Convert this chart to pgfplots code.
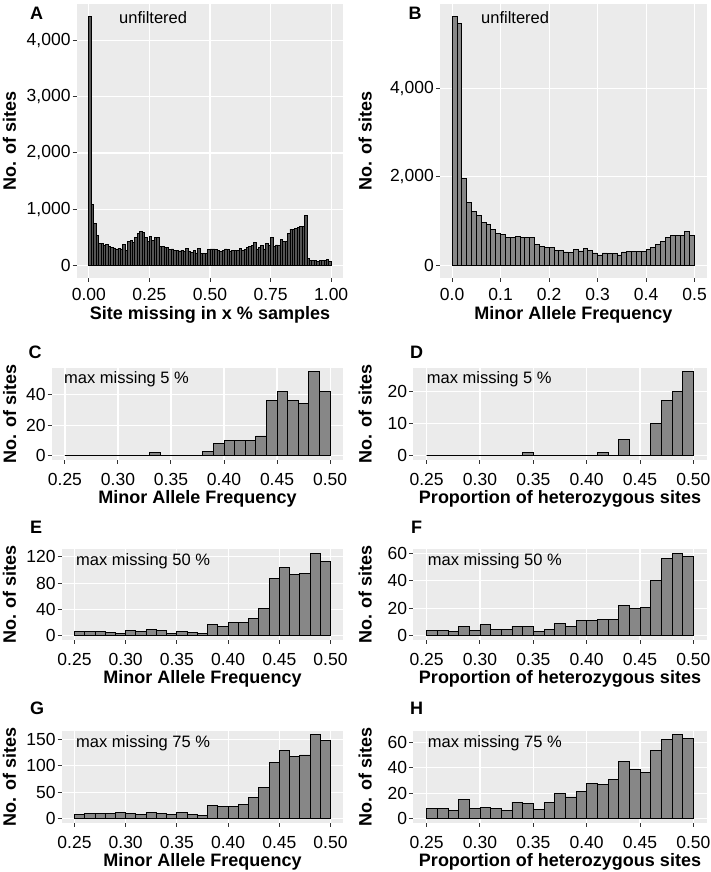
\documentclass[border=0pt]{standalone}
\usepackage{fontspec}
\setmainfont{Liberation Sans}
\usepackage{pgfplots}
\pgfplotsset{compat=1.18}
\definecolor{panelbg}{HTML}{EBEBEB}
\definecolor{barfill}{HTML}{878787}
\definecolor{barfillA}{HTML}{555555}
\definecolor{tickcol}{HTML}{333333}
\newcommand{\tl}[1]{\mbox{#1}}
\pgfplotsset{
  gg/.style={
    scale only axis,
    axis background/.style={fill=panelbg},
    axis line style={draw=none},
    grid=major,
    major grid style={draw=white, line width=1.1bp},
    tick align=outside,
    major tick length=4bp,
    xtick pos=bottom, ytick pos=left,
    tick style={draw=tickcol, line width=1bp},
    tick label style={font=\fontsize{17.5bp}{20bp}\selectfont},
    yticklabel style={anchor=east, inner sep=0pt, xshift=-2bp},
    xticklabel style={anchor=base, inner sep=0pt, yshift=-22bp},
    every axis x label/.style={anchor=base, inner sep=0pt, font=\fontsize{18bp}{20bp}\selectfont\bfseries},
    every axis y label/.style={rotate=90, anchor=base, inner sep=0pt, font=\fontsize{18bp}{20bp}\selectfont\bfseries},
    ylabel={No. of sites},
  },
  lower/.style={
    xmin=0.2375, xmax=0.5125,
    xtick={0.25,0.30,0.35,0.40,0.45,0.50},
    xticklabels={\tl{0.25},\tl{0.30},\tl{0.35},\tl{0.40},\tl{0.45},\tl{0.50}},
  },
  bars/.style={ybar, bar width=0.01, bar shift=0pt, fill=barfill, draw=black, line width=0.9bp},
}
\newcommand{\tagfont}{\fontsize{18bp}{20bp}\selectfont\bfseries}
\newcommand{\annfont}{\fontsize{16.5bp}{20bp}\selectfont}
\begin{document}
\begin{tikzpicture}
\useasboundingbox (0,0) rectangle (711bp,872bp);

% ---------- A ----------
\begin{axis}[gg, at={(76.7bp,594.3bp)}, anchor=south west, width=266.6bp, height=273.7bp,
  xmin=-0.05, xmax=1.05, ymin=-221.6, ymax=4653.6,
  xtick={0,0.25,0.5,0.75,1}, xticklabels={\tl{0.00},\tl{0.25},\tl{0.50},\tl{0.75},\tl{1.00}},
  ytick={0,1000,2000,3000,4000}, yticklabels={\tl{0},\tl{1,000},\tl{2,000},\tl{3,000},\tl{4,000}},
  xlabel={Site missing in x \% samples},
  xlabel style={at={(axis description cs:0.5,-0.1516)}},
  ylabel style={at={(axis description cs:-0.2277,0.5)}},
  xticklabel style={yshift=3bp}]
\addplot[bars, fill=barfillA, line width=0.8bp] coordinates {
(0.005,4432) (0.015,1077) (0.025,750) (0.035,527) (0.045,390) (0.055,385) (0.065,360) (0.075,367) (0.085,340) (0.095,320)
(0.105,308) (0.115,290) (0.125,295) (0.135,290) (0.145,370) (0.155,270) (0.165,420) (0.175,440) (0.185,400) (0.195,500)
(0.205,570) (0.215,600) (0.225,590) (0.235,500) (0.245,420) (0.255,510) (0.265,440) (0.275,500) (0.285,500) (0.295,340)
(0.305,330) (0.315,320) (0.325,310) (0.335,280) (0.345,290) (0.355,270) (0.365,260) (0.375,255) (0.385,270) (0.395,240)
(0.405,300) (0.415,250) (0.425,230) (0.435,265) (0.445,220) (0.455,300) (0.465,210) (0.475,215) (0.485,207) (0.495,278)
(0.505,290) (0.515,290) (0.525,278) (0.535,266) (0.545,249) (0.555,266) (0.565,290) (0.575,278) (0.585,254) (0.595,266)
(0.605,266) (0.615,266) (0.625,296) (0.635,266) (0.645,284) (0.655,320) (0.665,337) (0.675,349) (0.685,408) (0.695,290)
(0.705,320) (0.715,355) (0.725,290) (0.735,396) (0.745,355) (0.755,497) (0.765,337) (0.775,361) (0.785,349) (0.795,456)
(0.805,420) (0.815,426) (0.825,562) (0.835,645) (0.845,645) (0.855,663) (0.865,680) (0.875,692) (0.885,692) (0.895,888)
(0.905,118) (0.915,83) (0.925,83) (0.935,83) (0.945,71) (0.955,83) (0.965,83) (0.975,89) (0.985,100) (0.995,60)
};
\end{axis}

% ---------- B ----------
\begin{axis}[gg, at={(440bp,594.3bp)}, anchor=south west, width=266.7bp, height=273.7bp,
  xmin=-0.025, xmax=0.525, ymin=-281.6, ymax=5913.6,
  xtick={0,0.1,0.2,0.3,0.4,0.5}, xticklabels={\tl{0.0},\tl{0.1},\tl{0.2},\tl{0.3},\tl{0.4},\tl{0.5}},
  ytick={0,2000,4000}, yticklabels={\tl{0},\tl{2,000},\tl{4,000}},
  xlabel={Minor Allele Frequency},
  xlabel style={at={(axis description cs:0.5,-0.1516)}},
  ylabel style={at={(axis description cs:-0.2561,0.5)}},
  xticklabel style={yshift=3bp}]
\addplot[bars] coordinates {
(0.005,5632) (0.015,5466) (0.025,1970) (0.035,1429) (0.045,1218) (0.055,1128) (0.065,970) (0.075,932) (0.085,805) (0.095,729)
(0.105,707) (0.115,632) (0.125,632) (0.135,662) (0.145,639) (0.155,639) (0.165,632) (0.175,481) (0.185,429) (0.195,406)
(0.205,398) (0.215,338) (0.225,331) (0.235,301) (0.245,293) (0.255,361) (0.265,323) (0.275,376) (0.285,338) (0.295,278)
(0.305,233) (0.315,278) (0.325,271) (0.335,271) (0.345,233) (0.355,301) (0.365,308) (0.375,316) (0.385,316) (0.395,316)
(0.405,361) (0.415,398) (0.425,466) (0.435,541) (0.445,639) (0.455,684) (0.465,669) (0.475,669) (0.485,767) (0.495,684)
};
\end{axis}

% ---------- C ----------
\begin{axis}[gg, lower, at={(51.7bp,412bp)}, anchor=south west, width=291.6bp, height=92.3bp,
  ymin=-2.75, ymax=57.75, ytick={0,20,40}, yticklabels={\tl{0},\tl{20},\tl{40}},
  xlabel={Minor Allele Frequency},
  xlabel style={at={(axis description cs:0.5,-0.4767)}},
  ylabel style={at={(axis description cs:-0.1224,0.5)}}]
\addplot[bars] coordinates {
(0.255,0) (0.265,0) (0.275,0) (0.285,0) (0.295,0) (0.305,0) (0.315,0) (0.325,0) (0.335,2) (0.345,0)
(0.355,0) (0.365,0) (0.375,0) (0.385,3) (0.395,8) (0.405,10) (0.415,10) (0.425,10) (0.435,13) (0.445,36)
(0.455,42) (0.465,36) (0.475,34) (0.485,55) (0.495,42)
};
\end{axis}

% ---------- D ----------
\begin{axis}[gg, lower, at={(413.3bp,412bp)}, anchor=south west, width=293.4bp, height=92.3bp,
  ymin=-1.3, ymax=27.3, ytick={0,10,20}, yticklabels={\tl{0},\tl{10},\tl{20}},
  xlabel={Proportion of heterozygous sites},
  xlabel style={at={(axis description cs:0.5,-0.4767)}},
  ylabel style={at={(axis description cs:-0.1418,0.5)}}]
\addplot[bars] coordinates {
(0.255,0) (0.265,0) (0.275,0) (0.285,0) (0.295,0) (0.305,0) (0.315,0) (0.325,0) (0.335,0) (0.345,1)
(0.355,0) (0.365,0) (0.375,0) (0.385,0) (0.395,0) (0.405,0) (0.415,1) (0.425,0) (0.435,5) (0.445,0)
(0.455,0) (0.465,10) (0.475,17) (0.485,20) (0.495,26)
};
\end{axis}

% ---------- E ----------
\begin{axis}[gg, lower, at={(61.7bp,232bp)}, anchor=south west, width=281.6bp, height=90.7bp,
  ymin=-6.25, ymax=131.25, ytick={0,40,80,120}, yticklabels={\tl{0},\tl{40},\tl{80},\tl{120}},
  xlabel={Minor Allele Frequency},
  xlabel style={at={(axis description cs:0.5,-0.4851)}},
  ylabel style={at={(axis description cs:-0.1623,0.5)}}]
\addplot[bars] coordinates {
(0.255,6) (0.265,6) (0.275,6) (0.285,5) (0.295,4) (0.305,8) (0.315,6) (0.325,9) (0.335,8) (0.345,4)
(0.355,6) (0.365,5) (0.375,4) (0.385,18) (0.395,14) (0.405,20) (0.415,21) (0.425,27) (0.435,41) (0.445,87)
(0.455,103) (0.465,93) (0.475,94) (0.485,125) (0.495,113)
};
\end{axis}

% ---------- F ----------
\begin{axis}[gg, lower, at={(413.3bp,232bp)}, anchor=south west, width=293.4bp, height=90.7bp,
  ymin=-3, ymax=63, ytick={0,20,40,60}, yticklabels={\tl{0},\tl{20},\tl{40},\tl{60}},
  xlabel={Proportion of heterozygous sites},
  xlabel style={at={(axis description cs:0.5,-0.4851)}},
  ylabel style={at={(axis description cs:-0.1418,0.5)}}]
\addplot[bars] coordinates {
(0.255,4) (0.265,4) (0.275,3) (0.285,7) (0.295,4) (0.305,8) (0.315,5) (0.325,5) (0.335,7) (0.345,7)
(0.355,3) (0.365,5) (0.375,9) (0.385,7) (0.395,11) (0.405,11) (0.415,12) (0.425,12) (0.435,22) (0.445,20)
(0.455,21) (0.465,40) (0.475,56) (0.485,60) (0.495,58)
};
\end{axis}

% ---------- G ----------
\begin{axis}[gg, lower, at={(61.7bp,49.3bp)}, anchor=south west, width=281.6bp, height=92bp,
  ymin=-7.9, ymax=165.9, ytick={0,50,100,150}, yticklabels={\tl{0},\tl{50},\tl{100},\tl{150}},
  xlabel={Minor Allele Frequency},
  xlabel style={at={(axis description cs:0.5,-0.4783)}},
  ylabel style={at={(axis description cs:-0.1623,0.5)}}]
\addplot[bars] coordinates {
(0.255,7) (0.265,9) (0.275,10) (0.285,9) (0.295,11) (0.305,10) (0.315,8) (0.325,12) (0.335,10) (0.345,8)
(0.355,12) (0.365,7) (0.375,5) (0.385,24) (0.395,22) (0.405,23) (0.415,26) (0.425,40) (0.435,59) (0.445,106)
(0.455,129) (0.465,118) (0.475,120) (0.485,158) (0.495,147)
};
\end{axis}

% ---------- H ----------
\begin{axis}[gg, lower, at={(413.3bp,49.3bp)}, anchor=south west, width=293.4bp, height=92bp,
  ymin=-3.3, ymax=69.3, ytick={0,20,40,60}, yticklabels={\tl{0},\tl{20},\tl{40},\tl{60}},
  xlabel={Proportion of heterozygous sites},
  xlabel style={at={(axis description cs:0.5,-0.4783)}},
  ylabel style={at={(axis description cs:-0.1418,0.5)}}]
\addplot[bars] coordinates {
(0.255,8) (0.265,8) (0.275,6) (0.285,15) (0.295,8) (0.305,9) (0.315,8) (0.325,6) (0.335,13) (0.345,12)
(0.355,7) (0.365,13) (0.375,20) (0.385,17) (0.395,21) (0.405,28) (0.415,27) (0.425,31) (0.435,45) (0.445,39)
(0.455,36) (0.465,54) (0.475,62) (0.485,66) (0.495,63)
};
\end{axis}

% panel tags
\node[anchor=base west, inner sep=0pt, font=\tagfont] at (30bp,852.7bp) {A};
\node[anchor=base west, inner sep=0pt, font=\tagfont] at (408.3bp,852.7bp) {B};
\node[anchor=base west, inner sep=0pt, font=\tagfont] at (28.3bp,513.7bp) {C};
\node[anchor=base west, inner sep=0pt, font=\tagfont] at (410bp,513.7bp) {D};
\node[anchor=base west, inner sep=0pt, font=\tagfont] at (30bp,338.7bp) {E};
\node[anchor=base west, inner sep=0pt, font=\tagfont] at (411bp,338.7bp) {F};
\node[anchor=base west, inner sep=0pt, font=\tagfont] at (30bp,157bp) {G};
\node[anchor=base west, inner sep=0pt, font=\tagfont] at (410bp,157bp) {H};
% annotations
\node[anchor=base west, inner sep=0pt, font=\annfont] at (119bp,848.7bp) {unfiltered};
\node[anchor=base west, inner sep=0pt, font=\annfont] at (481bp,848.7bp) {unfiltered};
\node[anchor=base west, inner sep=0pt, font=\annfont] at (64bp,488.7bp) {max missing 5 \%};
\node[anchor=base west, inner sep=0pt, font=\annfont] at (426.7bp,488.7bp) {max missing 5 \%};
\node[anchor=base west, inner sep=0pt, font=\annfont] at (76bp,306.3bp) {max missing 50 \%};
\node[anchor=base west, inner sep=0pt, font=\annfont] at (427.7bp,306.3bp) {max missing 50 \%};
\node[anchor=base west, inner sep=0pt, font=\annfont] at (76bp,124.7bp) {max missing 75 \%};
\node[anchor=base west, inner sep=0pt, font=\annfont] at (427.7bp,124.7bp) {max missing 75 \%};
\end{tikzpicture}
\end{document}
